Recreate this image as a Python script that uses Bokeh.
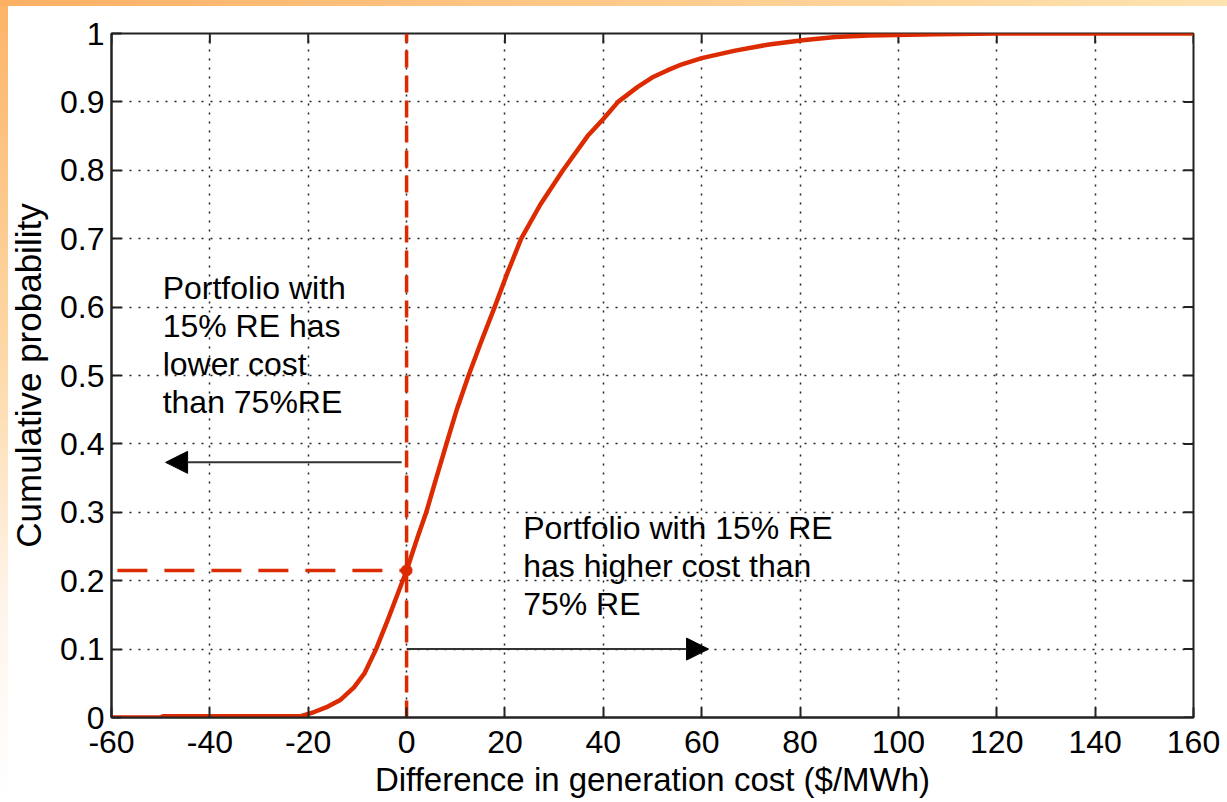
import math
from bokeh.plotting import figure
from bokeh.models import (Range1d, FixedTicker, Label, Arrow, NormalHead)
from bokeh.embed import file_html
from bokeh.resources import INLINE

# ---- data ----
curve_x = [-60, -50, -49.5, -21.5, -18.8, -16.0, -13.4, -10.7, -8.6, -6.2, -3.8, -1.8, 0.0,
           2.3, 4.0, 5.7, 8.1, 10.2, 12.6, 15.2, 17.9, 20.5, 23.3, 27.2, 31.8, 36.8,
           40.0, 43.0, 47.0, 50.0, 53.0, 56.0, 60.0, 66.8, 73.7, 80.5, 87.2, 94.0,
           107.6, 120.0, 160.0]
curve_y = [0.0, 0.0, 0.002, 0.002, 0.008, 0.016, 0.026, 0.044, 0.064, 0.100, 0.143, 0.181, 0.215,
           0.265, 0.300, 0.342, 0.400, 0.450, 0.500, 0.550, 0.600, 0.650, 0.700, 0.750, 0.800, 0.850,
           0.875, 0.900, 0.922, 0.936, 0.946, 0.955, 0.964, 0.975, 0.984, 0.990, 0.995, 0.997,
           0.999, 1.0, 1.0]
cross_x = [0.0]
cross_y = [0.215]
x_ticks = [-60, -40, -20, 0, 20, 40, 60, 80, 100, 120, 140, 160]
x_tick_labels = ["-60", "-40", "-20", "0", "20", "40", "60", "80", "100", "120", "140", "160"]
y_ticks = [0, 0.1, 0.2, 0.3, 0.4, 0.5, 0.6, 0.7, 0.8, 0.9, 1]
y_tick_labels = ["0", "0.1", "0.2", "0.3", "0.4", "0.5", "0.6", "0.7", "0.8", "0.9", "1"]
left_note = ["Portfolio with", "15% RE has", "lower cost", "than 75%RE"]
right_note = ["Portfolio with 15% RE", "has higher cost than", "75% RE"]
x_label = "Difference in generation cost ($/MWh)"
y_label = "Cumulative probability"

RED = "#dc2b00"
INK = "#222222"
FONT = "Liberation Sans"
X0, X1, Y0, Y1 = -60, 160, 0, 1

p = figure(width=1227, height=802, output_backend="svg", toolbar_location=None,
           x_range=Range1d(X0, X1), y_range=Range1d(Y0, Y1),
           min_border_left=111, min_border_right=34, min_border_top=33, min_border_bottom=85)
p.background_fill_color = "white"
p.border_fill_color = None
p.outline_line_color = INK
p.outline_line_width = 2

# axes
for ax in (p.xaxis[0], p.yaxis[0]):
    ax.major_tick_in = 10
    ax.major_tick_out = 0
    ax.minor_tick_line_color = None
    ax.axis_line_color = INK
    ax.axis_line_width = 2
    ax.major_tick_line_color = INK
    ax.major_tick_line_width = 2
    ax.major_label_text_font = FONT
    ax.major_label_text_font_size = "32px"
    ax.major_label_text_color = "black"
    ax.axis_label_text_font = FONT
    ax.axis_label_text_font_style = "normal"
    ax.axis_label_text_color = "black"

p.xaxis.ticker = FixedTicker(ticks=x_ticks)
p.yaxis.ticker = FixedTicker(ticks=y_ticks)
p.xaxis.major_label_overrides = {t: s for t, s in zip(x_ticks, x_tick_labels)}
p.yaxis.major_label_overrides = {t: s for t, s in zip(y_ticks, y_tick_labels)}
p.xaxis.axis_label = x_label
p.yaxis.axis_label = y_label
p.xaxis.axis_label_text_font_size = "33px"
p.yaxis.axis_label_text_font_size = "35px"
p.xaxis.major_label_standoff = 13
p.xaxis.axis_label_standoff = 5
p.yaxis.major_label_standoff = 7
p.yaxis.axis_label_standoff = 9

# inward tick marks on the top and right edges of the box (clipped to the frame)
p.scatter(x_ticks, [Y1] * len(x_ticks), marker="dash", angle=math.pi / 2, size=20,
          line_color=INK, line_width=2)
p.scatter([X1] * len(y_ticks), y_ticks, marker="dash", size=20,
          line_color=INK, line_width=2)

# grid
for g in (p.xgrid[0], p.ygrid[0]):
    g.grid_line_color = INK
    g.grid_line_width = 1.5
    g.grid_line_dash = "2 7"
p.xgrid.ticker = FixedTicker(ticks=x_ticks)
p.ygrid.ticker = FixedTicker(ticks=y_ticks)

# reference dashed lines at the crossing point
p.line([cross_x[0], cross_x[0]], [Y0, Y1], line_color=RED, line_width=3.5, line_dash="17 8")
p.line([-58.8, cross_x[0]], [cross_y[0], cross_y[0]], line_color=RED, line_width=3.5, line_dash="30 17")

# CDF curve
p.line(curve_x, curve_y, line_color=RED, line_width=4.5, line_join="round")
p.scatter(cross_x, cross_y, size=11, fill_color=RED, line_color=RED)

# arrows
p.add_layout(Arrow(x_start=-1.0, y_start=0.373, x_end=-49.0, y_end=0.373,
                   line_color="#333333", line_width=2,
                   end=NormalHead(size=22, fill_color="black", line_color="black")))
p.add_layout(Arrow(x_start=0.0, y_start=0.1, x_end=61.4, y_end=0.1,
                   line_color="#333333", line_width=2,
                   end=NormalHead(size=22, fill_color="black", line_color="black")))

# annotations
for i, s in enumerate(left_note):
    p.add_layout(Label(x=-49.6, y=0.654, y_offset=-38 * i, text=s, text_font=FONT,
                       text_font_size="32px", text_color="black", text_baseline="top"))
for i, s in enumerate(right_note):
    p.add_layout(Label(x=23.7, y=0.303, y_offset=-38 * i, text=s, text_font=FONT,
                       text_font_size="32px", text_color="black", text_baseline="top"))

html = file_html(p, INLINE)
style = ('<style>html { background: #ffffff; } '
         'body { margin: 0 !important; padding: 0 !important; background: '
         'linear-gradient(to right, #fcb064, #fde3b0) top left / 100% 6px no-repeat, '
         'linear-gradient(to bottom, #fcb468, #fdd9a8 45%, #fff4ea 75%, #ffffff) top left / 8px 100% no-repeat, '
         '#ffffff !important; overflow: hidden; }</style>')
if "</head>" in html:
    html = html.replace("</head>", style + "</head>", 1)
open("out.html", "w").write(html)
